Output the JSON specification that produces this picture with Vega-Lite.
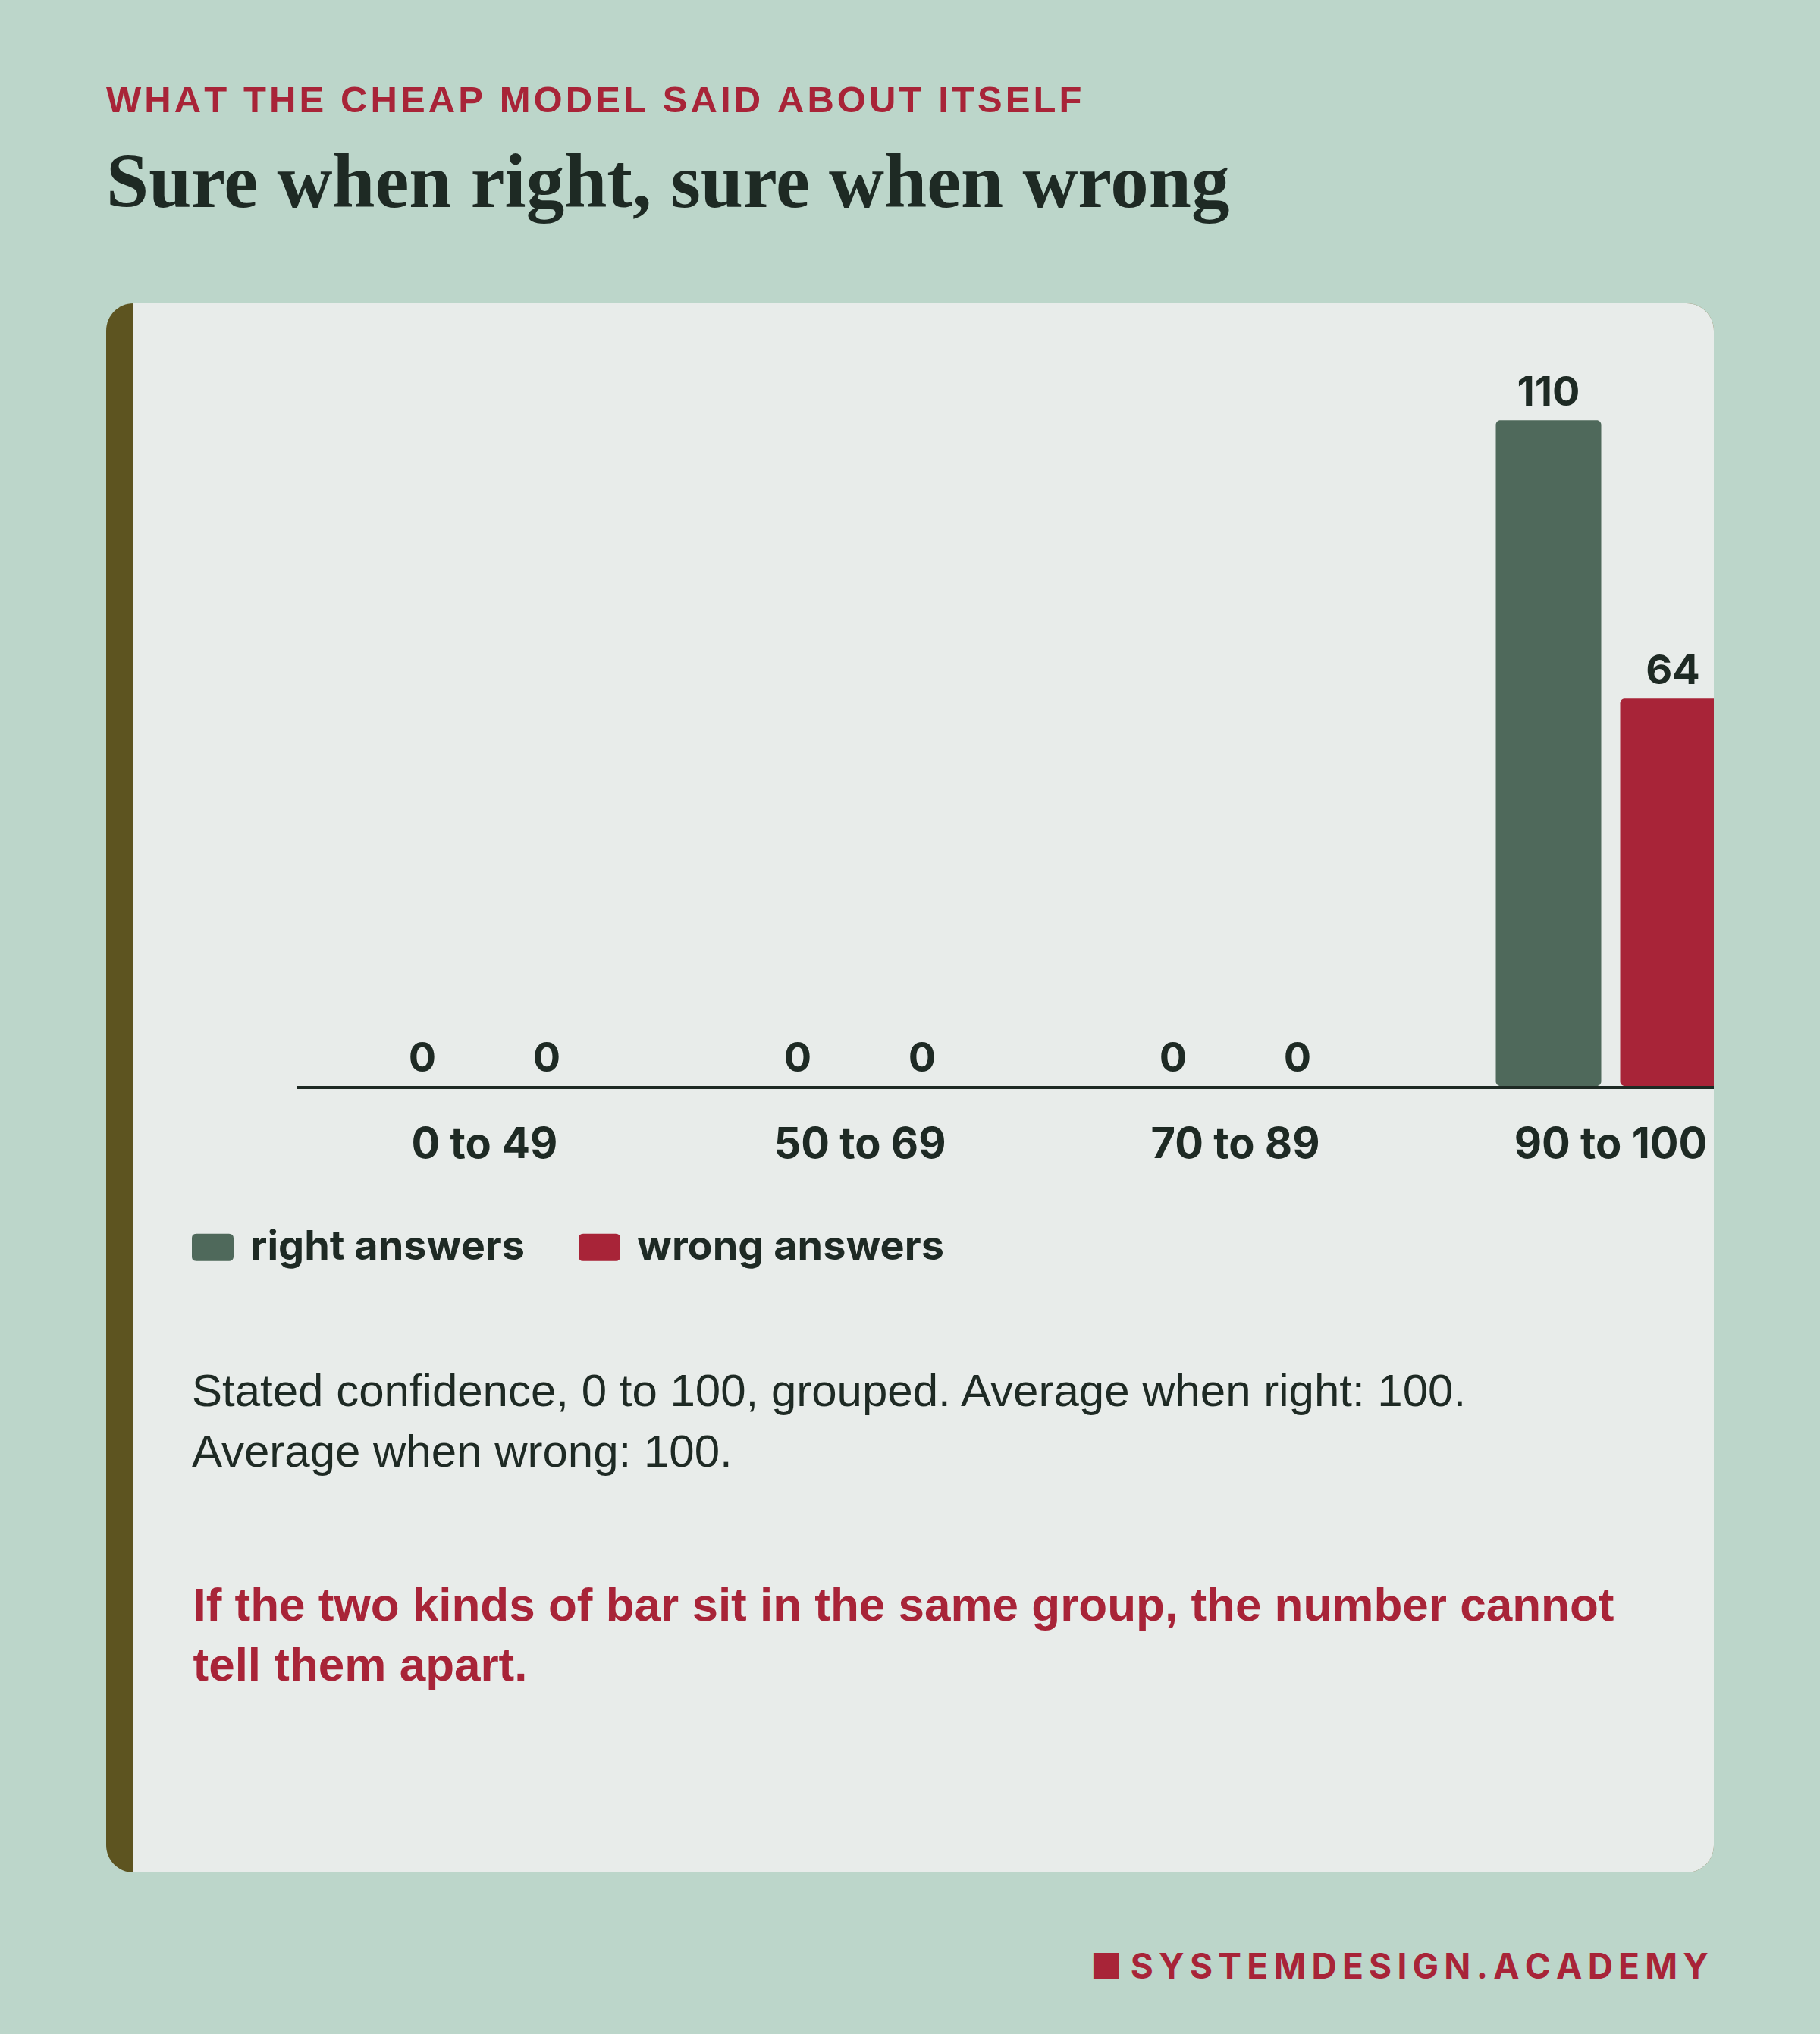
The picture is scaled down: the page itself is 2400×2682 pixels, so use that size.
{
  "$schema": "https://vega.github.io/schema/vega-lite/v6.json",
  "width": 2120,
  "height": 2069,
  "autosize": {"type": "none"},
  "padding": {"left": 140, "top": 400, "right": 140, "bottom": 213},
  "background": "#bcd6ca",
  "title": {
    "text": "W\u200aH\u200aA\u200aT\u200a \u200aT\u200aH\u200aE\u200a \u200aC\u200aH\u200aE\u200aA\u200aP\u200a \u200aM\u200aO\u200aD\u200aE\u200aL\u200a \u200aS\u200aA\u200aI\u200aD\u200a \u200aA\u200aB\u200aO\u200aU\u200aT\u200a \u200aI\u200aT\u200aS\u200aE\u200aL\u200aF",
    "subtitle": "Sure when right, sure when wrong",
    "anchor": "start",
    "frame": "group",
    "font": "Liberation Sans",
    "fontSize": 49,
    "fontWeight": 700,
    "color": "#a82438",
    "subtitleFont": "Liberation Serif",
    "subtitleFontSize": 101,
    "subtitleFontWeight": 700,
    "subtitleColor": "#1e2a24",
    "subtitlePadding": 35,
    "offset": 107
  },
  "data": {
    "values": [
      {"group": "0 to 49", "series": "right answers", "count": 0},
      {"group": "0 to 49", "series": "wrong answers", "count": 0},
      {"group": "50 to 69", "series": "right answers", "count": 0},
      {"group": "50 to 69", "series": "wrong answers", "count": 0},
      {"group": "70 to 89", "series": "right answers", "count": 0},
      {"group": "70 to 89", "series": "wrong answers", "count": 0},
      {"group": "90 to 100", "series": "right answers", "count": 110},
      {"group": "90 to 100", "series": "wrong answers", "count": 64}
    ]
  },
  "layer": [
    {
      "data": {"values": [{}]},
      "mark": {"type": "rect", "color": "#e8ecea", "cornerRadiusTopRight": 36, "cornerRadiusBottomRight": 36},
      "encoding": {
        "x": {"value": 36},
        "x2": {"value": 2120},
        "y": {"datum": 129.34, "type": "quantitative"},
        "y2": {"datum": -129.97}
      }
    },
    {
      "mark": {"type": "bar", "cornerRadius": 6, "clip": true},
      "encoding": {
        "x": {
          "field": "group",
          "type": "nominal",
          "scale": {
            "domain": ["0 to 49", "50 to 69", "70 to 89", "90 to 100"],
            "range": [251.5, 2231.5],
            "paddingInner": 0,
            "paddingOuter": 0
          },
          "axis": {
            "orient": "bottom",
            "offset": -1037,
            "zindex": 1,
            "domain": false,
            "ticks": false,
            "grid": false,
            "labelAngle": 0,
            "labelFont": "Inter",
            "labelFontWeight": 700,
            "labelFontSize": 56,
            "labelColor": "#1e2a24",
            "labelBaseline": "alphabetic",
            "labelPadding": 94,
            "labelOverlap": false,
            "labelLimit": 1000,
            "title": ["If the two kinds of bar sit in the same group, the number cannot", "tell them apart."],
            "titleX": 114,
            "titleY": 704,
            "titleAlign": "left",
            "titleBaseline": "alphabetic",
            "titleFont": "Liberation Sans",
            "titleFontWeight": 700,
            "titleFontSize": 62,
            "titleColor": "#a82438",
            "titleLineHeight": 79,
            "titleLimit": 3000
          }
        },
        "xOffset": {
          "field": "series",
          "scale": {"paddingInner": 0.1524, "paddingOuter": 0.5854}
        },
        "y": {
          "field": "count",
          "type": "quantitative",
          "scale": {"domain": [-129.97, 129.34], "nice": false, "zero": false},
          "axis": {
            "orient": "right",
            "labels": false,
            "ticks": false,
            "domain": false,
            "grid": false,
            "title": "\u25a0 S\u2009Y\u2009S\u2009T\u2009E\u2009M\u2009D\u2009E\u2009S\u2009I\u2009G\u2009N\u2009.\u2009A\u2009C\u2009A\u2009D\u2009E\u2009M\u2009Y",
            "titleAngle": 0,
            "titleX": -7.5,
            "titleY": 2208,
            "titleAlign": "right",
            "titleBaseline": "alphabetic",
            "titleFont": "Inter",
            "titleFontWeight": 700,
            "titleFontSize": 46,
            "titleColor": "#a82438",
            "titleLimit": 3000
          }
        },
        "y2": {"datum": 0},
        "color": {
          "field": "series",
          "type": "nominal",
          "scale": {"domain": ["right answers", "wrong answers"], "range": ["#4f695b", "#a82438"]},
          "legend": {
            "orient": "none",
            "legendX": 113,
            "legendY": 1217,
            "direction": "horizontal",
            "padding": 0,
            "symbolType": "M-0.78,-0.655 L0.78,-0.655 Q1,-0.655 1,-0.435 L1,0.435 Q1,0.655 0.78,0.655 L-0.78,0.655 Q-1,0.655 -1,0.435 L-1,-0.435 Q-1,-0.655 -0.78,-0.655 Z",
            "symbolSize": 3025,
            "symbolStrokeWidth": 0,
            "symbolOpacity": 1,
            "labelFont": "Inter",
            "labelFontWeight": 700,
            "labelFontSize": 54,
            "labelColor": "#1e2a24",
            "labelOffset": 22,
            "labelLimit": 1000,
            "columnPadding": 70,
            "title": ["Stated confidence, 0 to 100, grouped. Average when right: 100.", "Average when wrong: 100."],
            "titleOrient": "bottom",
            "titleAnchor": "start",
            "titleFont": "Liberation Sans",
            "titleFontWeight": 400,
            "titleFontSize": 60,
            "titleColor": "#1e2a24",
            "titleLineHeight": 80,
            "titlePadding": 135,
            "titleLimit": 3000
          }
        }
      }
    },
    {
      "mark": {"type": "text", "font": "Inter", "fontWeight": 700, "fontSize": 54, "color": "#1e2a24", "baseline": "alphabetic", "dy": -19},
      "encoding": {
        "x": {"field": "group", "type": "nominal"},
        "xOffset": {"field": "series"},
        "y": {"field": "count", "type": "quantitative"},
        "text": {"field": "count", "type": "quantitative"}
      }
    },
    {
      "data": {"values": [{}]},
      "mark": {"type": "rule", "strokeWidth": 4, "color": "#1e2a24", "clip": true, "yOffset": 2},
      "encoding": {
        "x": {"datum": "0 to 49", "type": "nominal", "bandPosition": 0},
        "x2": {"datum": "90 to 100", "bandPosition": 1},
        "y": {"datum": 0, "type": "quantitative"}
      }
    }
  ],
  "config": {
    "view": {"fill": "#5d5420", "cornerRadius": 36, "stroke": null}
  }
}
